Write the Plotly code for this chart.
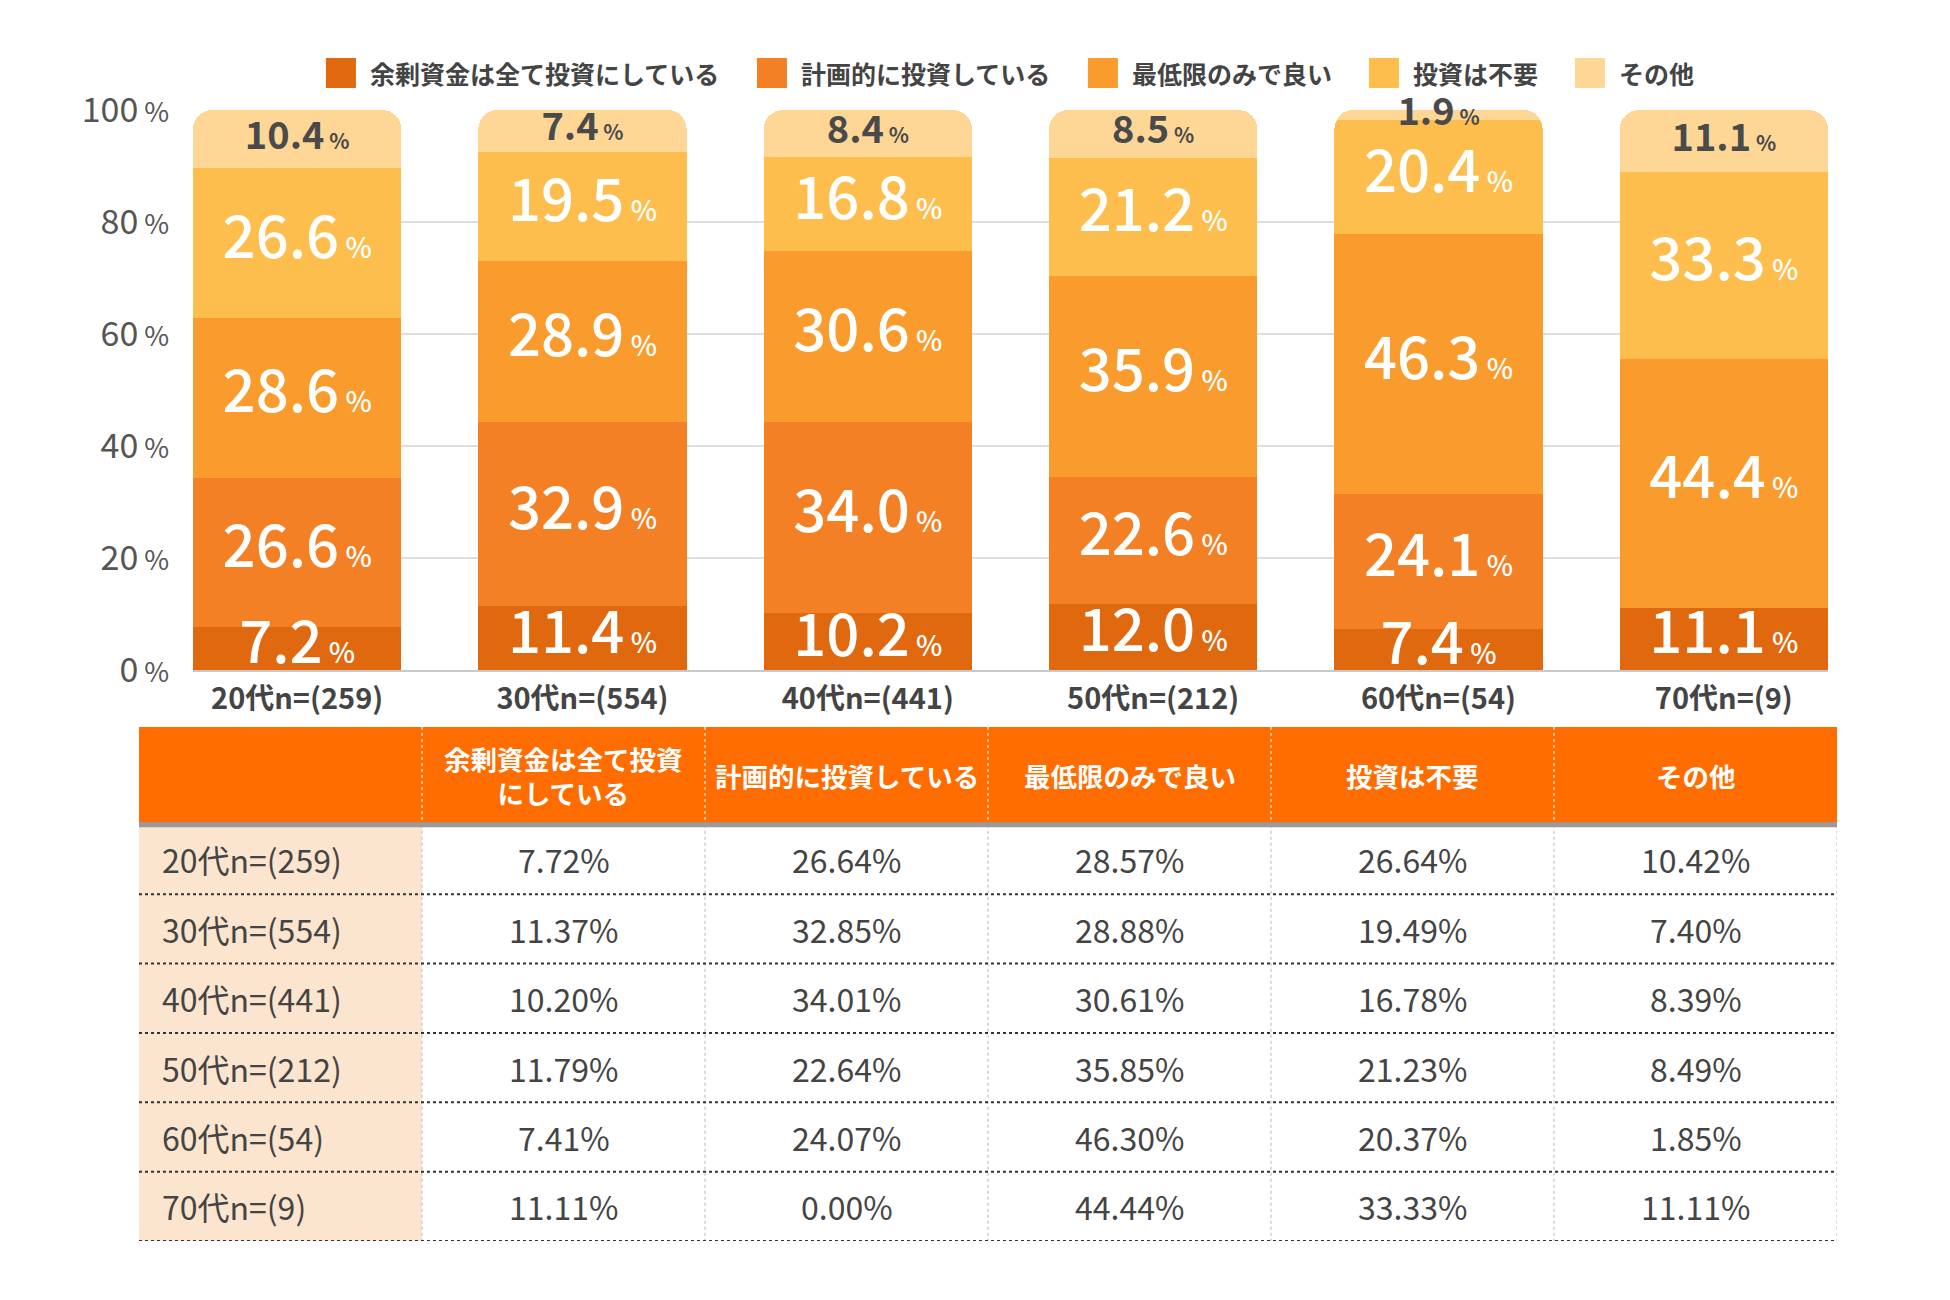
import plotly.graph_objects as go

# age groups (x categories / table rows)
categories = ["20代n=(259)", "30代n=(554)", "40代n=(441)", "50代n=(212)", "60代n=(54)", "70代n=(9)"]
series_names = ["余剰資金は全て投資にしている", "計画的に投資している", "最低限のみで良い", "投資は不要", "その他"]

# shares in % (from the table)
surplus_all = [7.72, 11.37, 10.20, 11.79, 7.41, 11.11]
planned = [26.64, 32.85, 34.01, 22.64, 24.07, 0.00]
minimum_only = [28.57, 28.88, 30.61, 35.85, 46.30, 44.44]
not_needed = [26.64, 19.49, 16.78, 21.23, 20.37, 33.33]
other = [10.42, 7.40, 8.39, 8.49, 1.85, 11.11]

# labels as they are printed on the bars
surplus_labels = ["7.2", "11.4", "10.2", "12.0", "7.4", "11.1"]
planned_labels = ["26.6", "32.9", "34.0", "22.6", "24.1", ""]
minimum_labels = ["28.6", "28.9", "30.6", "35.9", "46.3", "44.4"]
not_needed_labels = ["26.6", "19.5", "16.8", "21.2", "20.4", "33.3"]
other_labels = ["10.4", "7.4", "8.4", "8.5", "1.9", "11.1"]

header_labels = ["", "余剰資金は全て投資<br>にしている", "計画的に投資している", "最低限のみで良い", "投資は不要", "その他"]
y_ticks = [0, 20, 40, 60, 80, 100]

series_values = [surplus_all, planned, minimum_only, not_needed, other]
series_labels = [surplus_labels, planned_labels, minimum_labels, not_needed_labels, other_labels]
colors = ["#E0690F", "#F48026", "#F99B2D", "#FDBE4D", "#FED797"]

FONT = "Noto Sans CJK JP"
DARK = "#4a4a4a"
W, H = 1950, 1300


def fx(px):
    return px / W


def fy(px):
    return 1 - px / H


fig = go.Figure()

# stacked bars
for name, vals, col in zip(series_names, series_values, colors):
    fig.add_trace(go.Bar(
        x=categories, y=vals, name=name, showlegend=False,
        marker=dict(color=col, line=dict(width=0)),
        hoverinfo="skip",
    ))

# segment labels, centred in each segment
base = [0.0] * len(categories)
for i, (vals, labels) in enumerate(zip(series_values, series_labels)):
    mids = [b + v / 2 for b, v in zip(base, vals)]
    base = [b + v for b, v in zip(base, vals)]
    if i == len(series_values) - 1:
        txt = [f"{l}<span style='font-size:21px'> %</span>" if l else "" for l in labels]
        tf = dict(family=FONT, size=38, color=DARK, weight=600)
    else:
        txt = [f"{l}<span style='font-size:28px'> %</span>" if l else "" for l in labels]
        tf = dict(family=FONT, size=58, color="white", weight=500)
    fig.add_trace(go.Scatter(
        x=categories, y=mids, mode="text", text=txt, textfont=tf,
        textposition="middle center", showlegend=False,
        hoverinfo="skip", cliponaxis=False,
    ))

# ---- legend with large squares, laid out on its own pixel axis ----
leg_font = 25
sq = 30
sq_to_text = 42
item_gap = 39
widths = [sq_to_text + leg_font * len(n) for n in series_names]
total = sum(widths) + item_gap * (len(series_names) - 1)
start = 0.5174 * W - total / 2
sq_x, txt_x = [], []
pos = start
for wdt in widths:
    sq_x.append(pos + sq / 2)
    txt_x.append(pos + sq_to_text)
    pos += wdt + item_gap
fig.add_trace(go.Scatter(
    x=sq_x, y=[0.5] * len(sq_x), xaxis="x3", yaxis="y3", mode="markers",
    marker=dict(symbol="square", size=sq, color=colors, line=dict(width=0)),
    showlegend=False, hoverinfo="skip", cliponaxis=False,
))

annotations = []
for tx, name in zip(txt_x, series_names):
    annotations.append(dict(
        x=tx, y=0.5, xref="x3", yref="y3", text=name, showarrow=False,
        xanchor="left", font=dict(family=FONT, size=leg_font, color="#444444", weight="bold"),
    ))

# ---- table drawn on its own axes ----
row_heights = [1.41] + [1] * len(categories)
edges = [0]
for h in row_heights:
    edges.append(edges[-1] + h)
n_cols = len(header_labels)
z = [[0] * n_cols] + [[1] + [2] * (n_cols - 1) for _ in categories]
fig.add_trace(go.Heatmap(
    z=z, x=[j - 0.5 for j in range(n_cols + 1)], y=edges,
    xaxis="x2", yaxis="y2", zmin=0, zmax=2, showscale=False,
    colorscale=[[0, "#FF6D00"], [0.5, "#FCE5CE"], [1, "#FFFFFF"]],
    hoverinfo="skip",
))

header_mid = edges[0] + row_heights[0] / 2
for j, lab in enumerate(header_labels):
    if not lab:
        continue
    annotations.append(dict(
        x=j, y=header_mid, xref="x2", yref="y2", text=lab, showarrow=False,
        font=dict(family=FONT, size=26.5, color="white", weight="bold"),
    ))
for r, cat in enumerate(categories):
    y_mid = edges[r + 1] + row_heights[r + 1] / 2
    annotations.append(dict(
        x=-0.5, y=y_mid, xref="x2", yref="y2", text=cat, showarrow=False,
        xanchor="left", xshift=21,
        font=dict(family=FONT, size=32, color="#444444"),
    ))
    for c, vals in enumerate(series_values):
        annotations.append(dict(
            x=c + 1, y=y_mid, xref="x2", yref="y2", text=f"{vals[r]:.2f}%",
            showarrow=False, font=dict(family=FONT, size=32, color="#444444"),
        ))

shapes = []
left, right = -0.5, n_cols - 0.5
# vertical separators
for j in range(1, n_cols + 1):
    xv = j - 0.5
    if j < n_cols:
        shapes.append(dict(type="line", xref="x2", yref="y2", x0=xv, x1=xv,
                           y0=edges[0], y1=edges[1],
                           line=dict(color="rgba(255,225,200,0.9)", width=1.5, dash="dot")))
    shapes.append(dict(type="line", xref="x2", yref="y2", x0=xv, x1=xv,
                       y0=edges[1], y1=edges[-1],
                       line=dict(color="#cfcfcf", width=1.5, dash="dot")))
# row separators
for e in edges[2:]:
    shapes.append(dict(type="line", xref="x2", yref="y2", x0=left, x1=right,
                       y0=e, y1=e, line=dict(color="#333333", width=2, dash="dot")))
shapes.append(dict(type="line", xref="x2", yref="y2", x0=left, x1=right,
                   y0=edges[1], y1=edges[1], line=dict(color="#9a9a9a", width=5)))

fig.update_layout(
    width=W, height=H,
    margin=dict(l=0, r=0, t=0, b=0, autoexpand=False),
    paper_bgcolor="white", plot_bgcolor="white",
    barmode="stack", bargap=0.27, barcornerradius=19,
    font=dict(family=FONT, color=DARK),
    showlegend=False,
    xaxis=dict(
        domain=[fx(193), fx(1828)], range=[-0.365, len(categories) - 0.635],
        showgrid=False, showline=True, linecolor="#c8c8c8", linewidth=2,
        tickfont=dict(family=FONT, size=29, color="#444444", weight="bold"),
        ticks="outside", ticklen=2, tickcolor="rgba(0,0,0,0)", automargin=False,
    ),
    yaxis=dict(
        domain=[fy(670), fy(110)], range=[0, 100],
        tickvals=y_ticks,
        ticktext=[f"{t}<span style='font-size:27px'> %</span>" for t in y_ticks],
        tickfont=dict(family=FONT, size=34, color="#555555"),
        showgrid=True, gridcolor="#dedede", gridwidth=2, zeroline=False,
        ticks="outside", ticklen=16, tickcolor="rgba(0,0,0,0)", automargin=False,
    ),
    xaxis2=dict(domain=[fx(139), fx(1837)], range=[left, right], visible=False,
                anchor="y2", fixedrange=True),
    yaxis2=dict(domain=[fy(1241), fy(727)], range=[edges[-1], edges[0]], visible=False,
                anchor="x2", fixedrange=True),
    xaxis3=dict(domain=[0, 1], range=[0, W], visible=False, anchor="y3", fixedrange=True),
    yaxis3=dict(domain=[fy(98), fy(48)], range=[0, 1], visible=False, anchor="x3",
                fixedrange=True),
    annotations=annotations,
    shapes=shapes,
)

# drop the browser's default page margin so the figure sits at the window origin
fig.write_html("out.html", config={"displayModeBar": False},
               post_script="document.body.style.margin='0';")
